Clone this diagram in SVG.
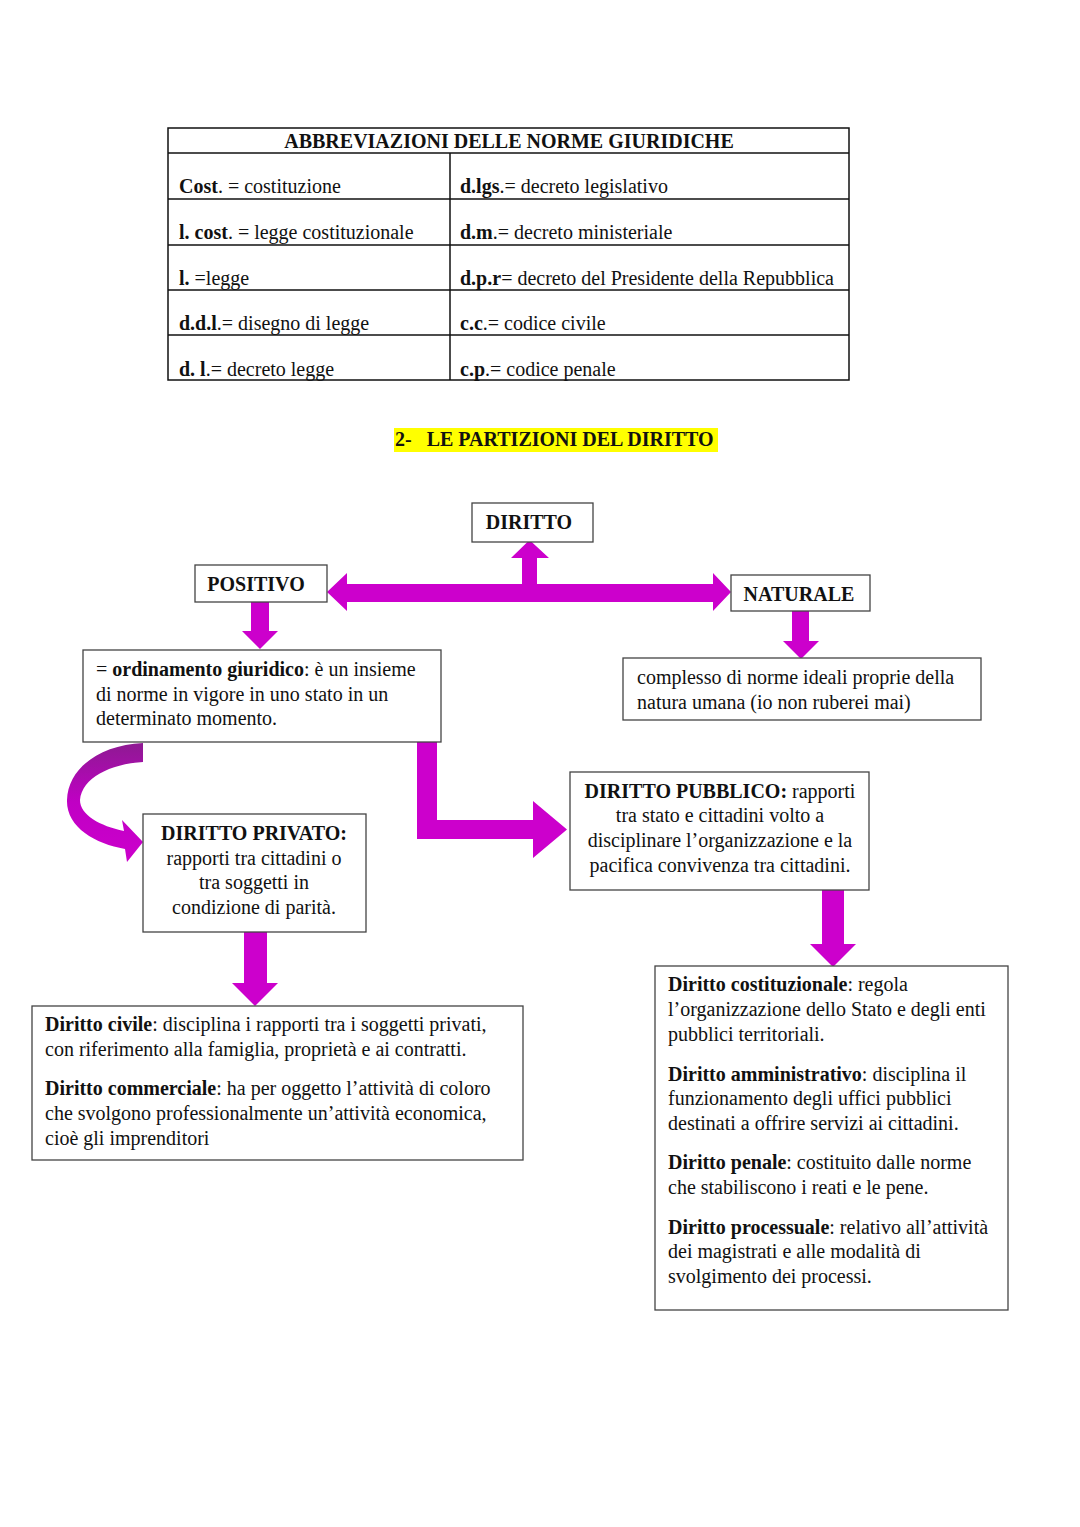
<svg xmlns="http://www.w3.org/2000/svg" width="1080" height="1527" viewBox="0 0 1080 1527">
<style>
text{font-family:"Liberation Serif","Times New Roman",serif;font-size:20px;fill:#111}
.b{font-weight:bold}
.c{text-anchor:middle}
.box{fill:#fff;stroke:#444;stroke-width:1.3}
.tl{stroke:#111;stroke-width:1.5;fill:none}
.arr{fill:#cc00cc}
</style>
<defs>
<linearGradient id="cg" x1="0" y1="0" x2="0" y2="1">
<stop offset="0" stop-color="#8e1a92"/>
<stop offset="0.5" stop-color="#c000c4"/>
<stop offset="1" stop-color="#cc00cc"/>
</linearGradient>
</defs>
<rect width="1080" height="1527" fill="#fff"/>

<g id="table">
<rect x="168" y="128" width="681" height="252" class="tl"/>
<line x1="168" y1="153" x2="849" y2="153" class="tl"/>
<line x1="168" y1="199" x2="849" y2="199" class="tl"/>
<line x1="168" y1="245" x2="849" y2="245" class="tl"/>
<line x1="168" y1="290" x2="849" y2="290" class="tl"/>
<line x1="168" y1="335" x2="849" y2="335" class="tl"/>
<line x1="450" y1="153" x2="450" y2="380" class="tl"/>
<text x="509" y="148" class="b c">ABBREVIAZIONI DELLE NORME GIURIDICHE</text>
<text x="179" y="193"><tspan class="b">Cost</tspan>. = costituzione</text>
<text x="460" y="193"><tspan class="b">d.lgs</tspan>.= decreto legislativo</text>
<text x="179" y="239"><tspan class="b">l. cost</tspan>. = legge costituzionale</text>
<text x="460" y="239"><tspan class="b">d.m</tspan>.= decreto ministeriale</text>
<text x="179" y="285"><tspan class="b">l.</tspan> =legge</text>
<text x="460" y="285"><tspan class="b">d.p.r</tspan>= decreto del Presidente della Repubblica</text>
<text x="179" y="330"><tspan class="b">d.d.l</tspan>.= disegno di legge</text>
<text x="460" y="330"><tspan class="b">c.c</tspan>.= codice civile</text>
<text x="179" y="376"><tspan class="b">d. l</tspan>.= decreto legge</text>
<text x="460" y="376"><tspan class="b">c.p</tspan>.= codice penale</text>
</g>

<g id="title">
<rect x="394" y="428" width="324" height="24" fill="#ffff00"/>
<text x="395" y="446" class="b" xml:space="preserve">2-   LE PARTIZIONI DEL DIRITTO</text>
</g>

<g id="connectors">
<path class="arr" d="M327,592 L347,573 L347,584 L522,584 L522,558 L511,558 L529.5,540 L549,558 L537,558 L537,584 L713,584 L713,573 L731,592 L713,611 L713,602 L347,602 L347,611 Z"/>
<path class="arr" d="M251,602 L269,602 L269,631 L278,631 L260,649 L242,631 L251,631 Z"/>
<path class="arr" d="M792,611 L809,611 L809,641 L819,641 L801,659 L783,641 L792,641 Z"/>
<path fill="url(#cg)" d="M143,743 L143,762 C110,764 82,778 80,800 C80,815 100,826 124,831 L122,820 L143,842 L127,862 L125,849 C95,844 66,827 67,800 C68,768 100,745 143,743 Z"/>
<path class="arr" d="M417,742 L437,742 L437,820 L533,820 L533,801 L567,829.5 L533,858 L533,839 L417,839 Z"/>
<path class="arr" d="M822,890 L844,890 L844,944 L856,944 L833,967 L810,944 L822,944 Z"/>
<path class="arr" d="M244,932 L267,932 L267,983 L278,983 L255,1006 L232,983 L244,983 Z"/>
</g>

<g id="node-diritto">
<rect x="472" y="503" width="121" height="39" class="box"/>
<text x="529" y="529" class="b c">DIRITTO</text>
</g>
<g id="node-positivo">
<rect x="195" y="565" width="132" height="37" class="box"/>
<text x="256" y="591" class="b c">POSITIVO</text>
</g>
<g id="node-naturale">
<rect x="731" y="575" width="139" height="36" class="box"/>
<text x="799" y="601" class="b c">NATURALE</text>
</g>
<g id="node-naturale-desc">
<rect x="623" y="658" width="358" height="62" class="box"/>
<text x="637" y="684">complesso di norme ideali proprie della</text>
<text x="637" y="709">natura umana (io non ruberei mai)</text>
</g>
<g id="node-ordinamento">
<rect x="83" y="650" width="358" height="92" class="box"/>
<text x="96" y="676">= <tspan class="b">ordinamento giuridico</tspan>: è un insieme</text>
<text x="96" y="701">di norme in vigore in uno stato in un</text>
<text x="96" y="725">determinato momento.</text>
</g>
<g id="node-privato">
<rect x="143" y="814" width="223" height="118" class="box"/>
<text x="254" y="840" class="b c">DIRITTO PRIVATO:</text>
<text x="254" y="865" class="c">rapporti tra cittadini o</text>
<text x="254" y="889" class="c">tra soggetti in</text>
<text x="254" y="914" class="c">condizione di parità.</text>
</g>
<g id="node-pubblico">
<rect x="570" y="772" width="299" height="118" class="box"/>
<text x="720" y="798" class="c"><tspan class="b">DIRITTO PUBBLICO:</tspan> rapporti</text>
<text x="720" y="822" class="c">tra stato e cittadini volto a</text>
<text x="720" y="847" class="c">disciplinare l’organizzazione e la</text>
<text x="720" y="872" class="c">pacifica convivenza tra cittadini.</text>
</g>
<g id="node-privato-branches">
<rect x="32" y="1006" width="491" height="154" class="box"/>
<text x="45" y="1031"><tspan class="b">Diritto civile</tspan>: disciplina i rapporti tra i soggetti privati,</text>
<text x="45" y="1056">con riferimento alla famiglia, proprietà e ai contratti.</text>
<text x="45" y="1095"><tspan class="b">Diritto commerciale</tspan>: ha per oggetto l’attività di coloro</text>
<text x="45" y="1120">che svolgono professionalmente un’attività economica,</text>
<text x="45" y="1145">cioè gli imprenditori</text>
</g>
<g id="node-pubblico-branches">
<rect x="655" y="966" width="353" height="344" class="box"/>
<text x="668" y="991"><tspan class="b">Diritto costituzionale</tspan>: regola</text>
<text x="668" y="1016">l’organizzazione dello Stato e degli enti</text>
<text x="668" y="1041">pubblici territoriali.</text>
<text x="668" y="1081"><tspan class="b">Diritto amministrativo</tspan>: disciplina il</text>
<text x="668" y="1105">funzionamento degli uffici pubblici</text>
<text x="668" y="1130">destinati a offrire servizi ai cittadini.</text>
<text x="668" y="1169"><tspan class="b">Diritto penale</tspan>: costituito dalle norme</text>
<text x="668" y="1194">che stabiliscono i reati e le pene.</text>
<text x="668" y="1234"><tspan class="b">Diritto processuale</tspan>: relativo all’attività</text>
<text x="668" y="1258">dei magistrati e alle modalità di</text>
<text x="668" y="1283">svolgimento dei processi.</text>
</g>
</svg>
